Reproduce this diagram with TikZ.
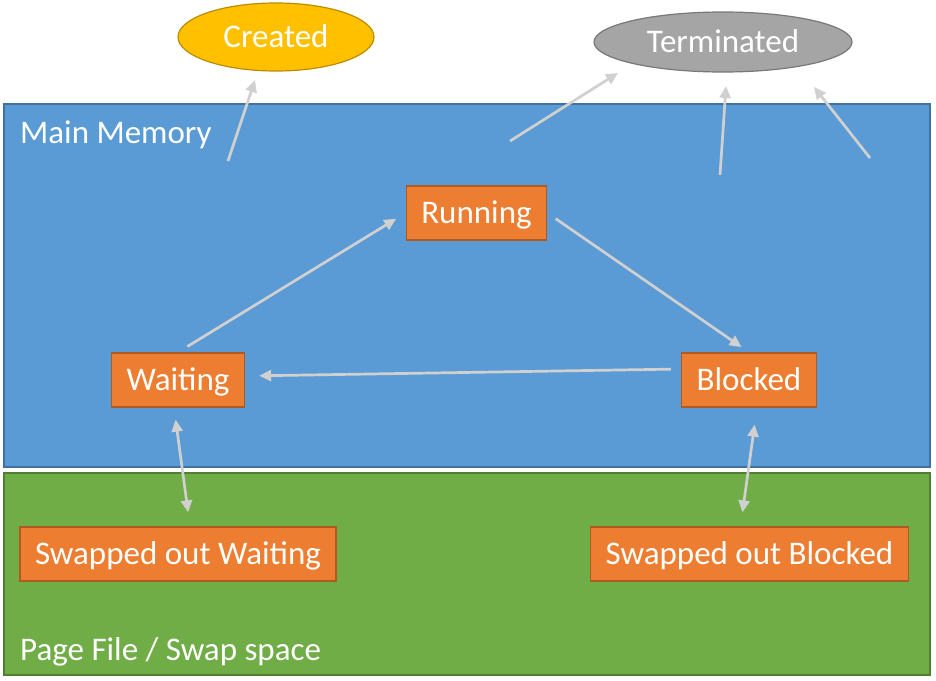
\documentclass[tikz,border=0pt]{standalone}
\usepackage{fontspec}
\setmainfont{Carlito}
\usetikzlibrary{arrows.meta,shapes.geometric}
\definecolor{memblue}{HTML}{5B9BD5}
\definecolor{memline}{HTML}{41719C}
\definecolor{swapgreen}{HTML}{70AD47}
\definecolor{swapline}{HTML}{507E32}
\definecolor{stateorange}{HTML}{ED7D31}
\definecolor{stateline}{HTML}{AE5A21}
\definecolor{creategold}{HTML}{FFC000}
\definecolor{createline}{HTML}{BC8C00}
\definecolor{termgray}{HTML}{A5A5A5}
\definecolor{termline}{HTML}{787878}
\definecolor{arrowgray}{HTML}{D0D0D0}
\begin{document}
\begin{tikzpicture}[x=1pt,y=-1pt,font=\fontsize{33}{36}\selectfont,text height=25pt,text depth=3.7pt]
        \tikzstyle{state}=[rectangle,draw=stateline,line width=1.5pt,fill=stateorange,text=white,minimum height=54pt,inner xsep=15pt,inner ysep=0pt]
        \tikzstyle{endstate}=[ellipse,line width=1.2pt,text=white,inner sep=0pt]
        \tikzstyle{area}=[line width=2pt]
        \tikzstyle{arealabel}=[anchor=west,inner sep=0pt,text=white]
        \tikzstyle{edge}=[draw=arrowgray,line width=2.7pt,-{Triangle[length=12pt,width=11pt]}]
        \tikzstyle{swapedge}=[draw=arrowgray,line width=2.7pt,{Triangle[length=12pt,width=11pt]}-{Triangle[length=12pt,width=11pt]}]
        \useasboundingbox (0,0) rectangle (936,680);
        % memory areas
        \fill[memblue,draw=memline,area] (4,104) rectangle (930,467);
        \fill[swapgreen,draw=swapline,area] (4,473) rectangle (930,675);
        \node [arealabel] (mainmem) at (20,133) {Main Memory};
        \node [arealabel] (pagefile) at (20,650) {Page File / Swap space};
        % states
        \node [endstate,fill=creategold,draw=createline,minimum width=196pt,minimum height=68pt] (created) at (276,37) {Created};
        \node [endstate,fill=termgray,draw=termline,minimum width=258pt,minimum height=60pt] (terminated) at (723,42) {Terminated};
        \node [state] (running) at (476.5,213) {Running};
        \node [state] (waiting) at (178,380) {Waiting};
        \node [state] (blocked) at (749,380) {Blocked};
        \node [state] (swwaiting) at (178,554) {Swapped out Waiting};
        \node [state] (swblocked) at (749.5,554) {Swapped out Blocked};
        % free ends
        \coordinate (c1) at (228,161);
        \coordinate (c1h) at (255,80);
        \coordinate (t1) at (510,141);
        \coordinate (t1h) at (618,73);
        \coordinate (t2) at (720,175);
        \coordinate (t2h) at (726,86);
        \coordinate (t3) at (870,158);
        \coordinate (t3h) at (814,87);
        \path[edge] (c1) -- (c1h);
        \path[edge] (t1) -- (t1h);
        \path[edge] (t2) -- (t2h);
        \path[edge] (t3) -- (t3h);
        % transitions
        \path[edge,shorten <=11pt,shorten >=11pt] (waiting.north) -- (running.west);
        \path[edge,shorten <=10pt,shorten >=9pt] (running.east) -- (blocked.north);
        \path[edge,shorten <=10pt,shorten >=14pt] ([yshift=11pt]blocked.west) -- ([yshift=4pt]waiting.east);
        \path[swapedge,shorten <=12pt,shorten >=14pt] ([xshift=-4pt]waiting.south) -- ([xshift=12pt]swwaiting.north);
        \path[swapedge,shorten <=17pt,shorten >=14pt] ([xshift=8pt]blocked.south) -- ([xshift=-9pt]swblocked.north);
\end{tikzpicture}
\end{document}
